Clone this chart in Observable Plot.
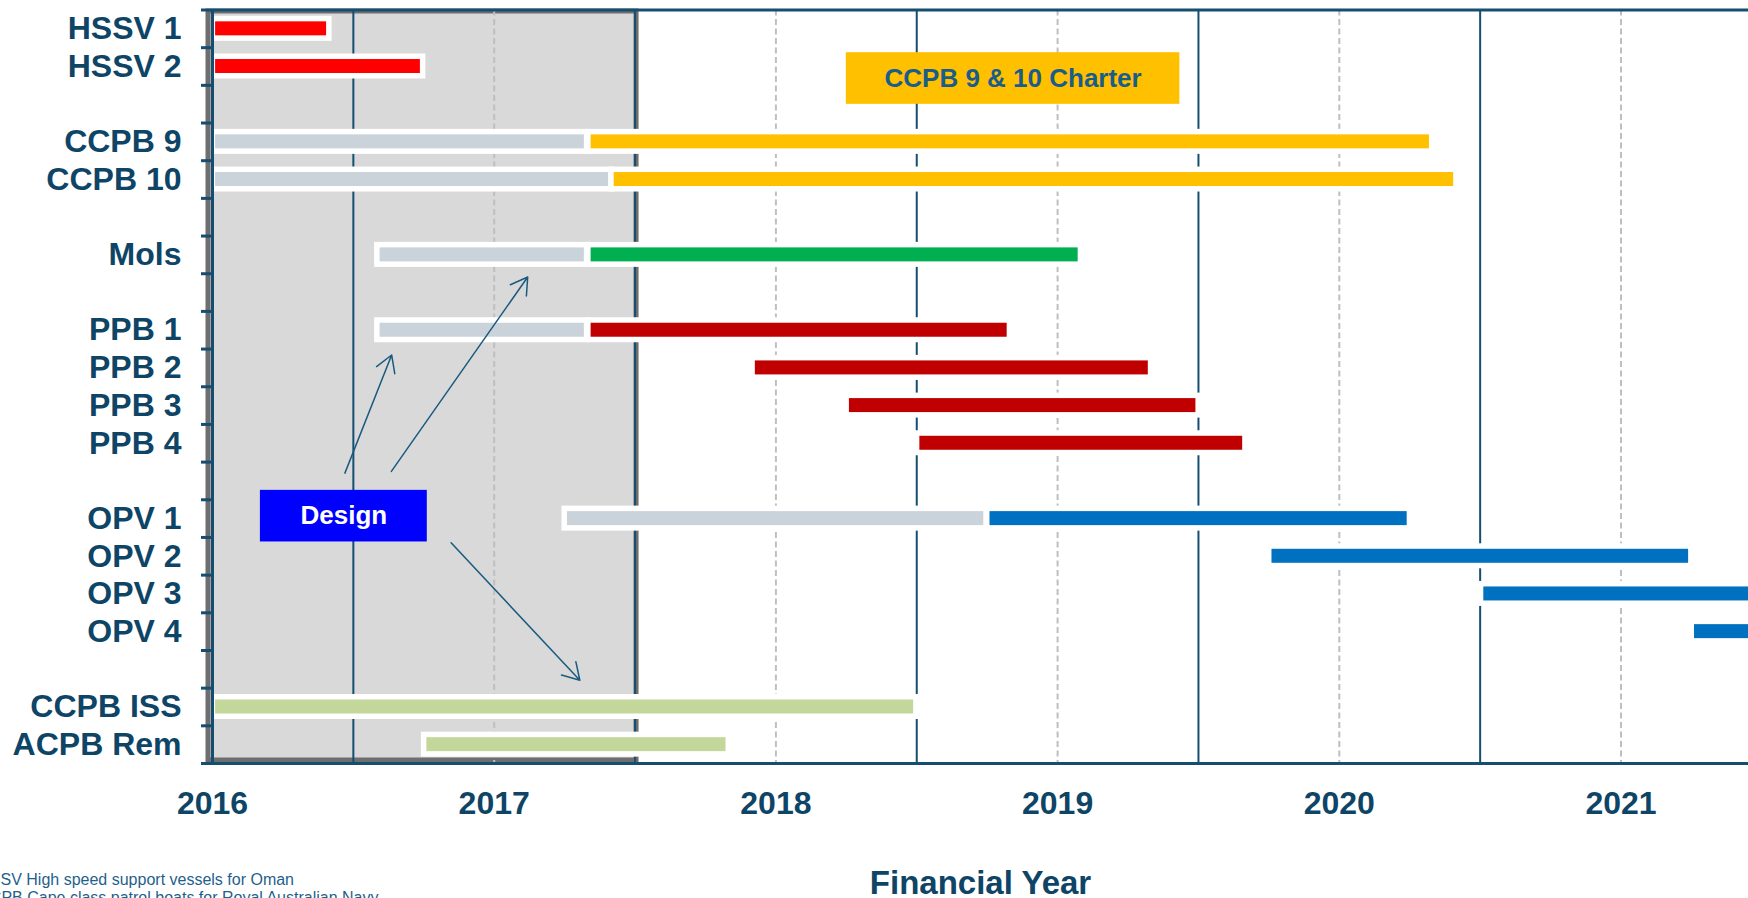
<!DOCTYPE html>
<html><head><meta charset="utf-8">
<script src="https://cdn.jsdelivr.net/npm/d3@7"></script>
<script src="https://cdn.jsdelivr.net/npm/@observablehq/plot@0.6"></script>
<style>html,body{margin:0;padding:0;background:#fff;overflow:hidden}</style>
</head><body><div id="chart"></div>
<script>
// ---- data ----
const rows = ["HSSV 1","HSSV 2","","CCPB 9","CCPB 10","","Mols","","PPB 1","PPB 2","PPB 3","PPB 4","","OPV 1","OPV 2","OPV 3","OPV 4","","CCPB ISS","ACPB Rem"];
const yearTicks = [2016, 2017, 2018, 2019, 2020, 2021];
const halfYears = [2016.5, 2017.5, 2018.5, 2019.5, 2020.5];
const shadedPeriod = [2016, 2017.5];

const designRows  = ["CCPB 9","CCPB 10","Mols","PPB 1","OPV 1"];
const designStart = [2016.011, 2016.011, 2016.595, 2016.595, 2017.26];
const designEnd   = [2017.32, 2017.406, 2017.32, 2017.32, 2018.738];

const buildRows  = ["HSSV 1","HSSV 2","CCPB 9","CCPB 10","Mols","PPB 1","PPB 2","PPB 3","PPB 4","OPV 1","OPV 2","OPV 3","OPV 4","CCPB ISS","ACPB Rem"];
const buildType  = ["HSSV","HSSV","Charter","Charter","Mols","PPB","PPB","PPB","PPB","OPV","OPV","OPV","OPV","Sustainment","Sustainment"];
const buildStart = [2016.011, 2016.011, 2017.344, 2017.426, 2017.344, 2017.344, 2017.927, 2018.261, 2018.511, 2018.76, 2019.761, 2020.513, 2021.261, 2016.011, 2016.761];
const buildEnd   = [2016.405, 2016.738, 2020.32, 2020.406, 2019.073, 2018.821, 2019.322, 2019.491, 2019.657, 2020.241, 2021.24, 2021.99, 2022.74, 2018.489, 2017.823];

const calloutText = ["CCPB 9 & 10 Charter", "Design"];
const calloutX1 = [2018.25, 2016.17];
const calloutX2 = [2019.434, 2016.7625];
const calloutY1 = [1.133, 12.75];
const calloutY2 = [2.504, 14.12];

const arrowX1 = [2016.470, 2016.635, 2016.847];
const arrowY1 = [12.292, 12.247, 14.143];
const arrowX2 = [2016.636, 2017.119, 2017.304];
const arrowY2 = [9.157, 7.088, 17.79];

const axisTitle = "Financial Year";
const footnotes = "HSSV High speed support vessels for Oman\nCCPB Cape class patrol boats for Royal Australian Navy";

// ---- build ----
const segments = [
  ...designRows.map((r, i) => ({row: rows.indexOf(r), start: designStart[i], end: designEnd[i], type: "Design"})),
  ...buildRows.map((r, i) => ({row: rows.indexOf(r), start: buildStart[i], end: buildEnd[i], type: buildType[i]}))
];
const callouts = calloutText.map((t, i) => ({t, x1: calloutX1[i], x2: calloutX2[i], y1: calloutY1[i], y2: calloutY2[i]}));
const arrows = arrowX1.map((x, i) => ({x1: x, y1: arrowY1[i], x2: arrowX2[i], y2: arrowY2[i]}));

const W = 1748, H = 898, ML = 212, MT = 9.5, MB = 135;
const rowH = (H - MT - MB) / rows.length;
const barInset = (rowH - 14) / 2;
const padInset = (rowH - 25) / 2;
const xMax = 2016 + (W - ML) / 281.7;
const font = "'Liberation Sans', Arial, sans-serif";
const textColor = "#0E4566";
const lineColor = "#154E70";

const chart = Plot.plot({
  width: W, height: H,
  marginLeft: ML, marginRight: 0, marginTop: MT, marginBottom: MB,
  style: {fontFamily: font, background: "white"},
  x: {domain: [2016, xMax], label: null},
  y: {domain: [0, rows.length], reverse: true, label: null},
  color: {domain: ["Design","HSSV","Charter","Mols","PPB","OPV","Sustainment"],
          range: ["#CBD3DA","#FF0000","#FFC000","#00B050","#C00000","#0070C0","#C4D79B"]},
  marks: [
    Plot.rect([shadedPeriod], {x1: d => d[0], x2: d => d[1], y1: 0, y2: rows.length,
      fill: "#D9D9D9", stroke: "#6E6E6E", strokeWidth: 5,
      insetLeft: -4, insetRight: -1.5, insetTop: 1.5, insetBottom: 3}),
    Plot.ruleX(yearTicks.filter(y => y > 2016), {stroke: "#BFBFBF", strokeWidth: 2, strokeDasharray: "6,3.5"}),
    Plot.ruleX(halfYears, {stroke: lineColor, strokeWidth: 2}),
    Plot.ruleY([0, rows.length], {stroke: lineColor, strokeWidth: 3}),
    Plot.rect(segments, {x1: "start", x2: "end", y1: "row", y2: d => d.row + 1,
      fill: "white", insetTop: padInset, insetBottom: padInset, insetLeft: -5.5, insetRight: -5.5, clip: true}),
    Plot.rect(segments, {x1: "start", x2: "end", y1: "row", y2: d => d.row + 1,
      fill: "type", insetTop: barInset, insetBottom: barInset, clip: true}),
    Plot.ruleX([2016], {stroke: lineColor, strokeWidth: 3}),
    Plot.axisY(d3.range(rows.length + 1), {tickSize: 11, tickFormat: () => "", stroke: lineColor, strokeWidth: 3, label: null}),
    Plot.axisY(rows.map((r, i) => i + 0.5).filter((_, i) => rows[i]), {
      tickSize: 0, tickPadding: 31, tickFormat: d => rows[Math.floor(d)],
      fontSize: 32, fontWeight: "bold", fill: textColor, label: null}),
    Plot.axisX(yearTicks, {tickSize: 0, tickPadding: 28, tickFormat: d => String(d),
      fontSize: 32, fontWeight: "bold", fill: textColor, label: null}),
    Plot.rect(callouts.slice(0, 1), {x1: "x1", x2: "x2", y1: "y1", y2: "y2", fill: "#FFC000"}),
    Plot.rect(callouts.slice(1), {x1: "x1", x2: "x2", y1: "y1", y2: "y2", fill: "#0000FF"}),
    Plot.text(callouts.slice(0, 1), {x: d => (d.x1 + d.x2) / 2, y: d => (d.y1 + d.y2) / 2, text: "t",
      fontSize: 26, fontWeight: "bold", fill: "#1A5C8A"}),
    Plot.text(callouts.slice(1), {x: d => (d.x1 + d.x2) / 2, y: d => (d.y1 + d.y2) / 2, text: "t",
      fontSize: 26, fontWeight: "bold", fill: "white"}),
    Plot.arrow(arrows, {x1: "x1", y1: "y1", x2: "x2", y2: "y2", stroke: "#1A5A80", strokeWidth: 1.5, headLength: 19, headAngle: 62}),
    Plot.text([axisTitle], {frameAnchor: "bottom", dy: 107, lineAnchor: "top", text: d => d,
      fontSize: 33, fontWeight: "bold", fill: textColor}),
    Plot.text([footnotes], {frameAnchor: "bottom-left", dx: -234.2, dy: 108.7, lineAnchor: "top",
      textAnchor: "start", text: d => d, fontSize: 16, lineHeight: 1.144, fill: "#1F5F8B"})
  ]
});
document.getElementById("chart").appendChild(chart);
</script>
</body></html>
